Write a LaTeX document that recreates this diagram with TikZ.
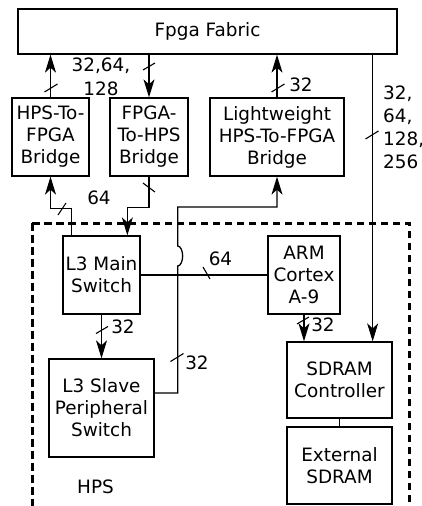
\documentclass[tikz,border=0pt]{standalone}
\usepackage{fontspec}
\setmainfont{DejaVu Sans}
\usetikzlibrary{arrows.meta,calc}
\tikzset{
  blk/.style={draw, line width=1.3pt, inner sep=0pt, align=center},
  wire/.style={line width=1.3pt},
  arr/.style={wire, -{Stealth[length=18pt,width=11pt,inset=5pt]}},
  bm/.style={line width=1.1pt},
  lbl/.style={inner sep=0pt, align=center},
  hpsbox/.style={line width=3pt, dash pattern=on 7.5pt off 4.5pt}
}
\newcommand\busmark[3]{\draw[bm] ([shift={(#2)}]#1) -- ([shift={(#3)}]#1);}
\begin{document}
\begin{tikzpicture}[x=1pt,y=-1pt,font=\fontsize{18.4}{22}\selectfont]
\useasboundingbox (0,0) rectangle (421,506);
% HPS region
\draw[hpsbox] (32,223) rectangle (409,540);
% blocks
\node[blk, minimum width=379pt, minimum height=45pt] (fabric) at (207.5,31.5) {Fpga Fabric};
\node[blk, minimum width=77pt, minimum height=78pt] (h2f) at (50.5,137) {HPS-To-\\FPGA\\Bridge};
\node[blk, minimum width=78pt, minimum height=78pt] (f2h) at (149,137) {FPGA-\\To-HPS\\Bridge};
\node[blk, minimum width=134pt, minimum height=78pt] (lw) at (277,137) {Lightweight\\HPS-To-FPGA\\Bridge};
\node[blk, minimum width=77pt, minimum height=78pt] (l3main) at (101.5,275) {L3 Main\\Switch};
\node[blk, minimum width=72pt, minimum height=78pt] (arm) at (304,275) {ARM\\Cortex\\A-9};
\node[blk, minimum width=105pt, minimum height=98pt] (l3slave) at (101.5,408) {L3 Slave\\Peripheral\\Switch};
\node[blk, minimum width=105pt, minimum height=76pt] (sdramc) at (339.5,380) {SDRAM\\Controller};
\node[blk, minimum width=105pt, minimum height=77pt] (ext) at (339.5,465.5) {External\\SDRAM};
% connectors
\draw[arr] (h2f.north) -- (h2f.north |- fabric.south);
\draw[arr] (f2h.north |- fabric.south) -- (f2h.north);
\draw[arr] (lw.north) -- (lw.north |- fabric.south);
\coordinate (rc) at ($(sdramc.north east)+(-20,0)$);
\draw[arr] (rc |- fabric.south) -- (rc);
\coordinate (m1) at ($(l3main.north west)+(9,0)$);
\draw[arr] (m1) -- ++(0,-27) -| (h2f.south);
\coordinate (m2) at ($(l3main.north west)+(65,0)$);
\draw[arr] (f2h.south) -- ++(0,31) -| (m2);
\draw[wire] (l3main.east) -- (arm.west);
\draw[arr] (l3main.south) -- (l3slave.north);
\draw[arr] (arm.south) -- (arm.south |- sdramc.north);
\draw[wire] (sdramc.south) -- (ext.north);
\coordinate (s1) at ($(l3slave.east)+(0,-15)$);
\draw[arr] (s1) -- ++(23,0) -- ++(0,-127)
  arc[start angle=90, end angle=-90, x radius=5, y radius=10]
  -- ++(0,-39) -| (lw.south);
% bus width marks
\busmark{51,88}{-6.5,4}{6.5,-4}
\busmark{149,66.5}{-6,3.5}{6,-3.5}
\busmark{278,88}{-6.5,4}{6.5,-4}
\busmark{372,135}{-6.5,4}{6.5,-4}
\busmark{62,209}{-4,6}{4,-6}
\busmark{149,187.5}{-6,-4.5}{6,4.5}
\busmark{206.5,273}{-3.5,-6}{3.5,6}
\busmark{102,330}{-6,3.5}{6,-3.5}
\busmark{303,320.5}{-6,3.5}{6,-3.5}
\busmark{177,357.5}{-6.5,4}{6.5,-4}
% labels
\node[lbl, font=\fontsize{18.4}{24}\selectfont] (t1) at (101,77) {32,64,\\128};
\node[lbl] (t2) at (301,85) {32};
\node[lbl, anchor=west, align=left, font=\fontsize{18.4}{23}\selectfont] (t3) at (383,127) {32,\\64,\\128,\\256};
\node[lbl] (t4) at (99,198) {64};
\node[lbl] (t5) at (220.5,258.5) {64};
\node[lbl] (t6) at (123,327) {32};
\node[lbl] (t7) at (323,325) {32};
\node[lbl] (t8) at (197,363) {32};
\node[lbl] (t9) at (95.5,487) {HPS};
\end{tikzpicture}
\end{document}
